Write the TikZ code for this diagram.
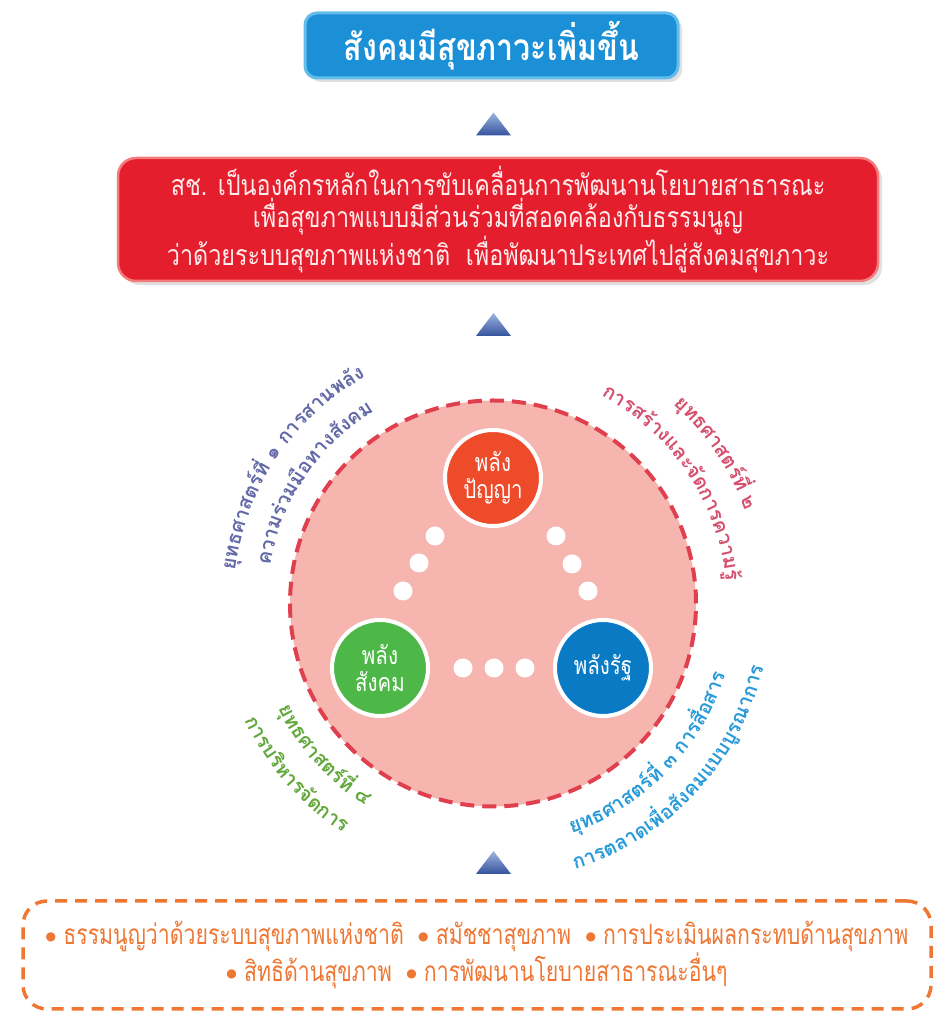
\documentclass[tikz,border=0pt]{standalone}
\usepackage{fontspec}
\usetikzlibrary{decorations.text}
\newfontfamily\thai[Script=Thai,FakeStretch=0.82]{Loma}
\newfontfamily\thainarrow[Script=Thai,FakeStretch=0.76]{Loma}
\newfontfamily\thaiwide[Script=Thai]{Loma}
\newfontfamily\dejavu{DejaVu Sans}
\newcommand\curvefont{\thaiwide\bfseries\fontsize{20}{20}\selectfont}
\newcommand\bul{\raisebox{4pt}{\dejavu\fontsize{12}{12}\selectfont ●}}
\definecolor{goalblue}{HTML}{1B90D6}
\definecolor{goalrim}{HTML}{62BCEC}
\definecolor{missionred}{HTML}{E41E2D}
\definecolor{missionrim}{HTML}{F47C7C}
\definecolor{wheelpink}{HTML}{F6B5AF}
\definecolor{wheeldash}{HTML}{E0404E}
\definecolor{panyaorange}{HTML}{EE4B2B}
\definecolor{sangkhomgreen}{HTML}{4DB848}
\definecolor{ratblue}{HTML}{0A7AC5}
\definecolor{lila}{HTML}{6469A8}
\definecolor{rose}{HTML}{D4506E}
\definecolor{sky}{HTML}{2A9BD8}
\definecolor{leaf}{HTML}{62A83C}
\definecolor{toolorange}{HTML}{EE7734}
\definecolor{trilight}{HTML}{9DB4E2}
\definecolor{tridark}{HTML}{34539C}
\begin{document}
\begin{tikzpicture}[x=1pt,y=1pt,
  power/.style={circle,draw=white,line width=4,text=white,align=center,
    minimum size=96,font=\thai\fontsize{25}{27}\selectfont},
  tri/.style={top color=trilight,bottom color=tridark}]

\useasboundingbox (0,0) rectangle (936,1019);

\fill[black!12,rounded corners=12] (309,937) rectangle (682,1002);
\node[fill=goalblue,draw=goalrim,line width=3,rounded corners=12,
  minimum width=373,minimum height=65,text=white,
  font=\thai\bfseries\fontsize{37}{37}\selectfont] (goal) at (491.5,973.5) {สังคมมีสุขภาวะเพิ่มขึ้น};

\fill[black!12,rounded corners=18] (122,734) rectangle (882,857);
\node[fill=missionred,draw=missionrim,line width=2.5,rounded corners=18,
  minimum width=760,minimum height=123,text=red!8!white,align=center,
  font=\thai\fontsize{28.5}{32}\selectfont] (mission) at (498,799.5)
  {สช. เป็นองค์กรหลักในการขับเคลื่อนการพัฒนานโยบายสาธารณะ\\
   เพื่อสุขภาพแบบมีส่วนร่วมที่สอดคล้องกับธรรมนูญ\\
   ว่าด้วยระบบสุขภาพแห่งชาติ \ เพื่อพัฒนาประเทศไปสู่สังคมสุขภาวะ};

\foreach \y in {895,694.5,156.5}{
  \shade[tri] (476,\y-11.5) -- (511,\y-11.5) -- (493.5,\y+11.5) -- cycle;}

\node[circle,fill=wheelpink,draw=wheeldash,line width=4,
  dash pattern=on 14 off 8,minimum size=406] (wheel) at (493,415.5) {};

\node[power,fill=panyaorange] (panya) at (493,541) {พลัง\\ปัญญา};
\node[power,fill=sangkhomgreen] (sangkhom) at (380,351) {พลัง\\สังคม};
\node[power,fill=ratblue] (rat) at (603,351) {พลังรัฐ};

\foreach \x/\y in {435/483,419/456,403/428,556/483,572/455,588/428,463/351,494/351,525/351}
  {\fill[white] (\x,\y) circle (9.5);}

\path[decorate,decoration={text along path,text align=center,text color=lila,
  text={|\curvefont|{ยุ}ทธศาสต{ร์}{ที่} ๑ การสานพ{ลั}ง}}]
  ([shift={(206:260)}]wheel.center) arc[start angle=206,end angle=86,radius=260];
\path[decorate,decoration={text along path,text align=center,text color=lila,
  text={|\curvefont|ความ{ร่}วม{มื}อทาง{สั}งคม}}]
  ([shift={(206:226)}]wheel.center) arc[start angle=206,end angle=86,radius=226];

\path[decorate,decoration={text along path,text align=center,text color=rose,
  text={|\curvefont|{ยุ}ทธศาสต{ร์}{ที่} ๒}}]
  ([shift={(94:269)}]wheel.center) arc[start angle=94,end angle=-26,radius=269];
\path[decorate,decoration={text along path,text align=center,text color=rose,
  text={|\curvefont|การส{ร้}างและ{จั}ดการความ{รู้}}}]
  ([shift={(94:234)}]wheel.center) arc[start angle=94,end angle=-26,radius=234];

\path[decorate,decoration={text along path,text align=center,text color=sky,
  text={|\curvefont|{ยุ}ทธศาสต{ร์}{ที่} ๓ การ{สื่}อสาร}}]
  ([shift={(-104:243)}]wheel.center) arc[start angle=-104,end angle=16,radius=243];
\path[decorate,decoration={text along path,text align=center,text color=sky,
  text={|\curvefont|การตลาดเ{พื่}อ{สั}งคมแบบ{บู}รณาการ}}]
  ([shift={(-103:278)}]wheel.center) arc[start angle=-103,end angle=17,radius=278];

\path[decorate,decoration={text along path,text align=center,text color=leaf,
  text={|\curvefont|{ยุ}ทธศาสต{ร์}{ที่} ๔}}]
  ([shift={(162:239)}]wheel.center) arc[start angle=162,end angle=282,radius=239];
\path[decorate,decoration={text along path,text align=center,text color=leaf,
  text={|\curvefont|การบ{ริ}หาร{จั}ดการ}}]
  ([shift={(161:274)}]wheel.center) arc[start angle=161,end angle=281,radius=274];

\node[draw=toolorange,line width=3.5,dash pattern=on 12 off 8,rounded corners=24,
  minimum width=908,minimum height=108,text=toolorange,align=center,
  font=\thainarrow\fontsize{28}{36}\selectfont] (tools) at (477,64)
  {\bul\ ธรรมนูญว่าด้วยระบบสุขภาพแห่งชาติ \ \bul\ สมัชชาสุขภาพ \ \bul\ การประเมินผลกระทบด้านสุขภาพ\\
   \bul\ สิทธิด้านสุขภาพ \ \bul\ การพัฒนานโยบายสาธารณะอื่นๆ};

\end{tikzpicture}
\end{document}
